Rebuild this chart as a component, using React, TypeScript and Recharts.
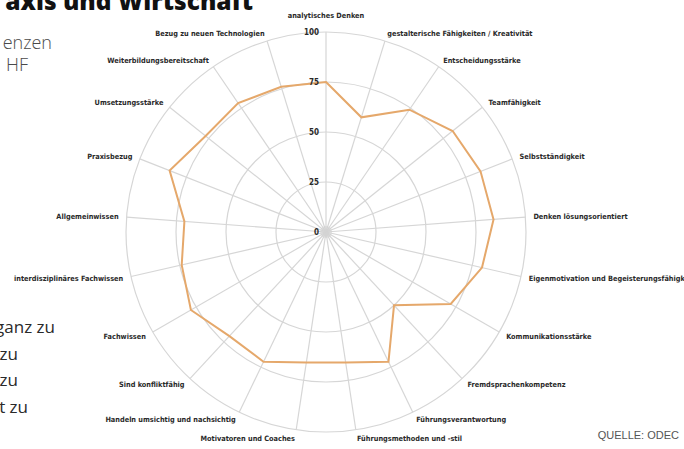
import React from "react";
import {
  RadarChart,
  Radar,
  PolarGrid,
  PolarAngleAxis,
  PolarRadiusAxis,
} from "recharts";

const categories = [
  "analytisches Denken",
  "gestalterische Fähigkeiten / Kreativität",
  "Entscheidungsstärke",
  "Teamfähigkeit",
  "Selbstständigkeit",
  "Denken lösungsorientiert",
  "Eigenmotivation und Begeisterungsfähigkeit",
  "Kommunikationsstärke",
  "Fremdsprachenkompetenz",
  "Führungsverantwortung",
  "Führungsmethoden und -stil",
  "Motivatoren und Coaches",
  "Handeln umsichtig und nachsichtig",
  "Sind konfliktfähig",
  "Fachwissen",
  "interdisziplinäres Fachwissen",
  "Allgemeinwissen",
  "Praxisbezug",
  "Umsetzungsstärke",
  "Weiterbildungsbereitschaft",
  "Bezug zu neuen Technologien",
];

const scores = [75, 60, 74, 81, 83, 84, 80, 72, 50, 72, 66, 66, 72, 71, 78, 74, 71, 84, 77, 78, 76];

const radiusTicks = [0, 25, 50, 75, 100];

const scaleLines = ["ganz zu", "zu", "zu", "t zu"];

const data = categories.map((name, i) => ({ name, value: scores[i] }));

const LABEL_FONT = "'Liberation Sans Narrow', 'DejaVu Sans Condensed', sans-serif";

function AngleTick(props: any) {
  const { x, y, textAnchor, payload, index } = props;
  const dy = index === 0 ? -6 : 3;
  return (
    <text
      x={x}
      y={y + dy}
      textAnchor={textAnchor}
      fontFamily={LABEL_FONT}
      fontWeight="bold"
      fontSize={7.3}
      fill="#2a2a2a"
    >
      {payload.value}
    </text>
  );
}

function RadiusTick(props: any) {
  const { x, y, payload } = props;
  return (
    <text
      x={x - 7}
      y={y + 3}
      textAnchor="end"
      fontFamily={LABEL_FONT}
      fontWeight="bold"
      fontSize={8}
      fill="#2a2a2a"
    >
      {payload.value}
    </text>
  );
}

export default function App() {
  return (
    <div
      style={{
        position: "absolute",
        left: 0,
        top: 0,
        width: 684,
        height: 449,
        background: "#fff",
        overflow: "hidden",
      }}
    >
      <RadarChart
        width={684}
        height={449}
        cx={326}
        cy={232}
        outerRadius={200}
        data={data}
        margin={{ top: 0, right: 0, bottom: 0, left: 0 }}
      >
        <PolarGrid gridType="circle" stroke="#d6d6d6" strokeWidth={1.2} />
        <PolarAngleAxis
          dataKey="name"
          tick={(p: any) => <AngleTick {...p} />}
          tickLine={false}
          axisLine={false}
        />
        <PolarRadiusAxis
          angle={90}
          domain={[0, 100]}
          ticks={radiusTicks as any}
          axisLine={false}
          tickLine={false}
          tick={(p: any) => <RadiusTick {...p} />}
        />
        <Radar
          dataKey="value"
          stroke="#e5a86b"
          strokeWidth={2}
          fill="none"
          fillOpacity={0}
          dot={false}
          isAnimationActive={false}
        />
      </RadarChart>
      <svg
        width={684}
        height={449}
        style={{ position: "absolute", left: 0, top: 0, pointerEvents: "none" }}
      >
        <circle cx={326} cy={232} r={6} fill="#cfcfcf" opacity={0.5} />
        <text
          x={253}
          y={10}
          textAnchor="end"
          fontFamily="'Open Sans', sans-serif"
          fontWeight={800}
          fontSize={24.5}
          fill="#111"
        >
          axis und Wirtschaft
        </text>
        <text x={52} y={49} textAnchor="end" fontFamily="'Open Sans', sans-serif" fontWeight={300} fontSize={18} fill="#4a4a4a">
          enzen
        </text>
        <text x={28} y={71} textAnchor="end" fontFamily="'Open Sans', sans-serif" fontWeight={300} fontSize={18} fill="#4a4a4a">
          HF
        </text>
        {scaleLines.map((t, i) => (
          <text
            key={i}
            x={i === 0 ? 55 : i === 3 ? 28 : 18}
            y={333 + i * 26.5}
            textAnchor="end"
            fontFamily="'Open Sans', sans-serif"
            fontWeight={400}
            fontSize={17}
            fill="#2a2a2a"
          >
            {t}
          </text>
        ))}
        <text
          x={679}
          y={439}
          textAnchor="end"
          fontFamily="'Liberation Sans Narrow', sans-serif"
          fontSize={11}
          fill="#555"
        >
          QUELLE: ODEC
        </text>
      </svg>
    </div>
  );
}
